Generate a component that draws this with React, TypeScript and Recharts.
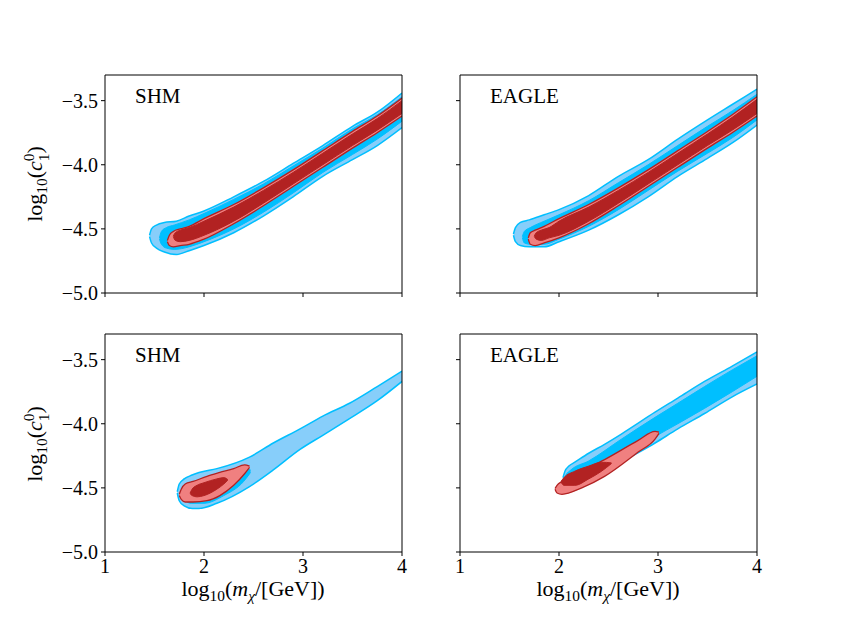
import { ComposedChart, Area, XAxis, YAxis, ReferenceLine } from 'recharts'

// each row: [log10 m, lower edge, upper edge] of a credible-region contour
type Row = [number, number, number]

const X_TICKS = [1, 2, 3, 4]
const Y_TICKS = [-5, -4.5, -4, -3.5]
const X_DOMAIN = [1, 4]
const Y_DOMAIN = [-5, -3.3]

// top row, SHM
const SHM_A_BLUE_OUTER: Row[] = [
  [1.45, -4.56, -4.55], [1.47, -4.61, -4.5], [1.52, -4.65, -4.47], [1.6, -4.68, -4.45],
  [1.72, -4.7, -4.44], [1.85, -4.67, -4.4], [2.0, -4.63, -4.36], [2.3, -4.53, -4.25],
  [2.6, -4.4, -4.13], [2.9, -4.25, -3.99], [3.2, -4.09, -3.85], [3.5, -3.96, -3.7],
  [3.75, -3.85, -3.59], [4.0, -3.71, -3.44],
]
const SHM_A_BLUE_INNER: Row[] = [
  [1.55, -4.58, -4.57], [1.57, -4.62, -4.52], [1.62, -4.65, -4.49], [1.7, -4.66, -4.47],
  [1.85, -4.64, -4.43], [2.0, -4.6, -4.38], [2.3, -4.5, -4.27], [2.6, -4.37, -4.15],
  [2.9, -4.22, -4.01], [3.2, -4.06, -3.87], [3.5, -3.92, -3.72], [3.75, -3.8, -3.61],
  [4.0, -3.66, -3.47],
]
const SHM_A_RED_OUTER: Row[] = [
  [1.63, -4.6, -4.59], [1.65, -4.63, -4.55], [1.69, -4.64, -4.52], [1.76, -4.63, -4.5],
  [1.85, -4.62, -4.48], [2.0, -4.58, -4.42], [2.3, -4.46, -4.31], [2.6, -4.32, -4.18],
  [2.9, -4.17, -4.04], [3.2, -4.02, -3.89], [3.5, -3.87, -3.74], [3.75, -3.75, -3.62],
  [4.0, -3.62, -3.48],
]
const SHM_A_RED_INNER: Row[] = [
  [1.69, -4.56, -4.555], [1.71, -4.59, -4.53], [1.76, -4.6, -4.51], [1.85, -4.59, -4.49],
  [2.0, -4.55, -4.44], [2.3, -4.44, -4.33], [2.6, -4.3, -4.2], [2.9, -4.15, -4.06],
  [3.2, -4.0, -3.91], [3.5, -3.85, -3.76], [3.75, -3.73, -3.64], [4.0, -3.6, -3.5],
]

// top row, EAGLE
const EAGLE_A_BLUE_OUTER: Row[] = [
  [1.54, -4.55, -4.54], [1.56, -4.6, -4.49], [1.61, -4.63, -4.45], [1.7, -4.64, -4.43],
  [1.85, -4.64, -4.39], [2.0, -4.6, -4.35], [2.3, -4.51, -4.24], [2.6, -4.39, -4.09],
  [2.9, -4.25, -3.96], [3.2, -4.09, -3.8], [3.5, -3.95, -3.65], [3.75, -3.83, -3.53],
  [4.0, -3.69, -3.41],
]
const EAGLE_A_BLUE_INNER: Row[] = [
  [1.63, -4.57, -4.56], [1.65, -4.61, -4.52], [1.71, -4.62, -4.49], [1.85, -4.62, -4.44],
  [2.0, -4.58, -4.39], [2.3, -4.48, -4.28], [2.6, -4.35, -4.14], [2.9, -4.2, -4.0],
  [3.2, -4.05, -3.85], [3.5, -3.91, -3.7], [3.75, -3.79, -3.58], [4.0, -3.65, -3.45],
]
const EAGLE_A_RED_OUTER: Row[] = [
  [1.69, -4.58, -4.57], [1.71, -4.62, -4.53], [1.76, -4.63, -4.51], [1.85, -4.61, -4.48],
  [2.0, -4.57, -4.42], [2.3, -4.46, -4.31], [2.6, -4.32, -4.18], [2.9, -4.17, -4.04],
  [3.2, -4.02, -3.89], [3.5, -3.87, -3.74], [3.75, -3.75, -3.61], [4.0, -3.62, -3.47],
]
const EAGLE_A_RED_INNER: Row[] = [
  [1.75, -4.56, -4.555], [1.77, -4.58, -4.53], [1.82, -4.59, -4.51], [1.9, -4.57, -4.49],
  [2.0, -4.55, -4.44], [2.3, -4.44, -4.33], [2.6, -4.3, -4.2], [2.9, -4.15, -4.06],
  [3.2, -4.0, -3.91], [3.5, -3.85, -3.76], [3.75, -3.73, -3.63], [4.0, -3.6, -3.49],
]

// bottom row, SHM
const SHM_B_BLUE_OUTER: Row[] = [
  [1.73, -4.54, -4.53], [1.75, -4.6, -4.47], [1.8, -4.64, -4.43], [1.88, -4.66, -4.4],
  [1.95, -4.66, -4.38], [2.13, -4.62, -4.35], [2.46, -4.49, -4.26], [2.7, -4.36, -4.15],
  [2.97, -4.2, -4.04], [3.2, -4.09, -3.94], [3.47, -3.96, -3.84], [3.75, -3.82, -3.71],
  [4.0, -3.67, -3.59],
]
const SHM_B_BLUE_INNER: Row[] = [
  [1.79, -4.56, -4.55], [1.81, -4.6, -4.51], [1.87, -4.62, -4.48], [2.0, -4.62, -4.45],
  [2.2, -4.56, -4.4], [2.4, -4.45, -4.35], [2.47, -4.38, -4.36],
]
const SHM_B_RED_OUTER: Row[] = [
  [1.75, -4.56, -4.55], [1.77, -4.59, -4.51], [1.81, -4.61, -4.47], [1.89, -4.61, -4.45],
  [2.03, -4.6, -4.41], [2.16, -4.56, -4.38], [2.3, -4.48, -4.35], [2.41, -4.39, -4.32],
  [2.46, -4.34, -4.33],
]
const SHM_B_RED_INNER: Row[] = [
  [1.86, -4.545, -4.54], [1.88, -4.56, -4.51], [1.93, -4.57, -4.48], [2.0, -4.56, -4.46],
  [2.13, -4.51, -4.43], [2.2, -4.47, -4.42], [2.24, -4.44, -4.435],
]

// bottom row, EAGLE
const EAGLE_B_BLUE_OUTER: Row[] = [
  [2.04, -4.43, -4.42], [2.06, -4.47, -4.37], [2.1, -4.49, -4.33], [2.16, -4.48, -4.3],
  [2.3, -4.45, -4.23], [2.46, -4.38, -4.16], [2.63, -4.3, -4.08], [2.97, -4.15, -3.91],
  [3.2, -4.04, -3.8], [3.47, -3.92, -3.67], [3.75, -3.79, -3.55], [4.0, -3.69, -3.44],
]
const EAGLE_B_BLUE_INNER: Row[] = [
  [2.05, -4.44, -4.435], [2.07, -4.46, -4.4], [2.12, -4.47, -4.36], [2.3, -4.42, -4.29],
  [2.63, -4.27, -4.12], [2.97, -4.1, -3.95], [3.2, -4.0, -3.84], [3.47, -3.88, -3.71],
  [3.75, -3.75, -3.58], [4.0, -3.63, -3.47],
]
const EAGLE_B_RED_OUTER: Row[] = [
  [1.96, -4.51, -4.505], [1.98, -4.54, -4.48], [2.03, -4.55, -4.45], [2.23, -4.5, -4.37],
  [2.46, -4.41, -4.28], [2.8, -4.22, -4.13], [2.97, -4.12, -4.06], [3.01, -4.075, -4.065],
]
const EAGLE_B_RED_INNER: Row[] = [
  [2.02, -4.455, -4.45], [2.05, -4.48, -4.42], [2.16, -4.48, -4.37], [2.3, -4.43, -4.33],
  [2.43, -4.37, -4.3], [2.53, -4.31, -4.305],
]

const LIGHT_BLUE = '#87CEFA'
const DEEP_BLUE = '#00BFFF'
const LIGHT_RED = '#F08080'
const DARK_RED = '#B22222'
const FONT = '"Liberation Serif", "DejaVu Serif", serif'

const toData = (rows: Row[]) => rows.map(([x, lo, hi]) => ({ x, band: [lo, hi] }))

const fmtY = (v: number) => (v < 0 ? '\u2212' : '') + Math.abs(v).toFixed(1)

interface PanelProps {
  left: number
  top: number
  yAxisWidth: number
  marginRight: number
  name: string
  xLabels: boolean
  yLabels: boolean
  blueOuter: Row[]
  blueInner: Row[]
  redOuter: Row[]
  redInner: Row[]
}

function Panel(p: PanelProps) {
  const tickStyle = { fontSize: 20, fill: '#000', fontFamily: FONT }
  return (
    <div style={{ position: 'absolute', left: p.left, top: p.top, fontFamily: FONT }}>
      <ComposedChart width={420} height={293} margin={{ top: 35, right: p.marginRight, bottom: 0, left: 0 }} style={{ fontFamily: FONT }}>
        <XAxis
          dataKey="x"
          type="number"
          domain={X_DOMAIN}
          ticks={X_TICKS}
          allowDataOverflow
          height={40}
          tickSize={4}
          tickMargin={3}
          stroke="#000"
          tick={tickStyle}
          tickFormatter={(v: number) => (p.xLabels ? String(v) : '')}
        />
        <YAxis
          type="number"
          domain={Y_DOMAIN}
          ticks={Y_TICKS}
          allowDataOverflow
          width={p.yAxisWidth}
          tickSize={4}
          tickMargin={3}
          stroke="#000"
          tick={tickStyle}
          tickFormatter={(v: number) => (p.yLabels ? fmtY(v) : '')}
        />
        <Area data={toData(p.blueOuter)} dataKey="band" type="monotoneX" fill={LIGHT_BLUE} fillOpacity={1} stroke={DEEP_BLUE} strokeWidth={1.5} isAnimationActive={false} />
        <Area data={toData(p.blueInner)} dataKey="band" type="monotoneX" fill={DEEP_BLUE} fillOpacity={1} stroke={DEEP_BLUE} strokeWidth={1} isAnimationActive={false} />
        <Area data={toData(p.redOuter)} dataKey="band" type="monotoneX" fill={LIGHT_RED} fillOpacity={1} stroke={DARK_RED} strokeWidth={1.3} isAnimationActive={false} />
        <Area data={toData(p.redInner)} dataKey="band" type="monotoneX" fill={DARK_RED} fillOpacity={1} stroke={DARK_RED} strokeWidth={1} isAnimationActive={false} />
        <ReferenceLine x={4} stroke="#000" strokeWidth={1} />
        <ReferenceLine y={-3.3} stroke="#000" strokeWidth={1} />
      </ComposedChart>
      <div style={{ position: 'absolute', left: p.yAxisWidth + 30, top: 46, fontSize: 21, lineHeight: 1 }}>
        {p.name}
      </div>
    </div>
  )
}

function YLabel({ top }: { top: number }) {
  return (
    <div
      style={{
        position: 'absolute', left: 37, top, transform: 'translate(-50%, -50%) rotate(-90deg)',
        fontFamily: FONT, fontSize: 22, whiteSpace: 'nowrap', lineHeight: 1,
      }}
    >
      log<sub style={{ fontSize: '0.7em' }}>10</sub>(<i>c</i>
      <span style={{ display: 'inline-flex', flexDirection: 'column', fontSize: '0.7em', verticalAlign: 'middle', lineHeight: 0.95 }}>
        <span>0</span>
        <span>1</span>
      </span>)
    </div>
  )
}

function XLabel({ left }: { left: number }) {
  return (
    <div
      style={{
        position: 'absolute', left, top: 591, transform: 'translate(-50%, -50%)',
        fontFamily: FONT, fontSize: 22, whiteSpace: 'nowrap', lineHeight: 1,
      }}
    >
      log<sub style={{ fontSize: '0.7em' }}>10</sub>(<i>m</i><sub style={{ fontSize: '0.7em' }}><i>χ</i></sub>/[GeV])
    </div>
  )
}

export default function App() {
  return (
    <div style={{ position: 'absolute', left: 0, top: 0, width: 842, height: 632, background: '#fff', overflow: 'hidden' }}>
      <Panel left={0} top={40} yAxisWidth={105} marginRight={18} name="SHM" xLabels={false} yLabels
        blueOuter={SHM_A_BLUE_OUTER} blueInner={SHM_A_BLUE_INNER} redOuter={SHM_A_RED_OUTER} redInner={SHM_A_RED_INNER} />
      <Panel left={420} top={40} yAxisWidth={40} marginRight={83} name="EAGLE" xLabels={false} yLabels={false}
        blueOuter={EAGLE_A_BLUE_OUTER} blueInner={EAGLE_A_BLUE_INNER} redOuter={EAGLE_A_RED_OUTER} redInner={EAGLE_A_RED_INNER} />
      <Panel left={0} top={299} yAxisWidth={105} marginRight={18} name="SHM" xLabels yLabels
        blueOuter={SHM_B_BLUE_OUTER} blueInner={SHM_B_BLUE_INNER} redOuter={SHM_B_RED_OUTER} redInner={SHM_B_RED_INNER} />
      <Panel left={420} top={299} yAxisWidth={40} marginRight={83} name="EAGLE" xLabels yLabels={false}
        blueOuter={EAGLE_B_BLUE_OUTER} blueInner={EAGLE_B_BLUE_INNER} redOuter={EAGLE_B_RED_OUTER} redInner={EAGLE_B_RED_INNER} />
      <YLabel top={184} />
      <YLabel top={444} />
      <XLabel left={253} />
      <XLabel left={608} />
    </div>
  )
}
